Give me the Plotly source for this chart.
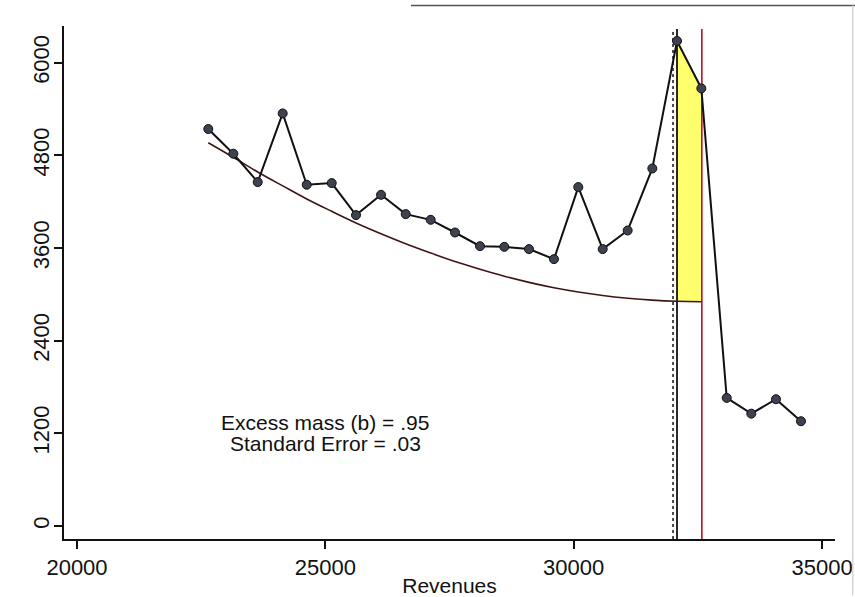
import plotly.graph_objects as go

# Revenue bins (midpoints) and observed counts per bin
revenues = [22643, 23147, 23638, 24141, 24625, 25128, 25617, 26121, 26618,
            27121, 27610, 28114, 28603, 29100, 29603, 30093, 30584, 31087,
            31583, 32080, 32570, 33081, 33576, 34073, 34576]
counts = [5141, 4821, 4454, 5343, 4419, 4441, 4026, 4289, 4039, 3965, 3801,
          3624, 3615, 3586, 3456, 4389, 3586, 3827, 4630, 6281, 5667, 1659,
          1455, 1642, 1357]

# Counterfactual density (polynomial fit), bins up to the upper bound
cf_revenues = revenues[:21]
cf_counts = [4964, 4775, 4585, 4405, 4235, 4075, 3925, 3785, 3655, 3535,
             3425, 3325, 3235, 3155, 3085, 3030, 2985, 2950, 2925, 2910, 2905]

threshold = 32000
lower_bound = 32080
upper_bound = 32580
excess_mass = ".95"
std_error = ".03"

x_ticks = [20000, 25000, 30000, 35000]
y_ticks = [0, 1200, 2400, 3600, 4800, 6000]

x_range = [19738, 35261]
y_range = [-168, 6475]
line_top = 6437

FONT = "Liberation Sans, Arial, sans-serif"

fig = go.Figure()

# Excess mass between observed and counterfactual in the excluded window
i0 = revenues.index(lower_bound)
i1 = 20
fig.add_trace(go.Scatter(
    x=[revenues[i0], revenues[i1], revenues[i1], revenues[i0], revenues[i0]],
    y=[counts[i0], counts[i1], cf_counts[i1], cf_counts[i0], counts[i0]],
    fill="toself", fillcolor="#ffff6e", mode="lines",
    line=dict(width=0, color="rgba(0,0,0,0)"), hoverinfo="skip",
    showlegend=False))

# Vertical reference lines
fig.add_trace(go.Scatter(x=[threshold, threshold], y=[y_range[0], line_top],
                         mode="lines", line=dict(color="#111111", width=1.5, dash="dot"),
                         showlegend=False))
fig.add_trace(go.Scatter(x=[lower_bound, lower_bound], y=[y_range[0], line_top],
                         mode="lines", line=dict(color="#111111", width=1.8),
                         showlegend=False))
fig.add_trace(go.Scatter(x=[upper_bound, upper_bound], y=[y_range[0], line_top],
                         mode="lines", line=dict(color="#b3121f", width=1.6),
                         showlegend=False))

# Counterfactual curve
fig.add_trace(go.Scatter(x=cf_revenues, y=cf_counts, mode="lines",
                         line=dict(color="#3e1515", width=1.6, shape="spline"),
                         showlegend=False))

# Observed distribution
fig.add_trace(go.Scatter(x=revenues, y=counts, mode="lines+markers",
                         line=dict(color="#111111", width=2),
                         marker=dict(size=9, color="#3d4150",
                                     line=dict(color="#111111", width=1)),
                         showlegend=False))

fig.add_annotation(x=25000, y=1345, xref="x", yref="y",
                   text=f"Excess mass (b) = {excess_mass}", showarrow=False,
                   xanchor="center", yanchor="middle",
                   font=dict(family=FONT, size=21, color="#111111"))
fig.add_annotation(x=25000, y=1070, xref="x", yref="y",
                   text=f"Standard Error = {std_error}", showarrow=False,
                   xanchor="center", yanchor="middle",
                   font=dict(family=FONT, size=21, color="#111111"))

# Paper edge lines along the top and right of the page
fig.add_shape(type="line", xref="paper", yref="paper",
              x0=0.45, x1=1.03, y0=1.04, y1=1.04,
              line=dict(color="#555555", width=1.5))
fig.add_shape(type="line", xref="paper", yref="paper",
              x0=1.023, x1=1.023, y0=-0.11, y1=1.04,
              line=dict(color="#d5d5d5", width=1.5))

fig.update_layout(
    width=855, height=597,
    margin=dict(l=64, r=20, t=26, b=58),
    paper_bgcolor="white", plot_bgcolor="white",
    font=dict(family=FONT, size=22, color="#111111"),
    xaxis=dict(range=x_range, tickvals=x_ticks, ticktext=[str(v) for v in x_ticks],
               showgrid=False, zeroline=False, showline=True, linecolor="#111111",
               linewidth=1.5, ticks="outside", ticklen=8, tickwidth=1.5,
               tickcolor="#111111", automargin=False,
               title=dict(text="Revenues", font=dict(size=21), standoff=2)),
    yaxis=dict(range=y_range, tickvals=y_ticks, ticktext=[str(v) for v in y_ticks],
               tickangle=-90, showgrid=False, zeroline=False, showline=True,
               linecolor="#111111", linewidth=1.5, ticks="outside", ticklen=8,
               tickwidth=1.5, tickcolor="#111111", automargin=False,
               ticklabelstandoff=-4),
)

fig.write_html("out.html")
